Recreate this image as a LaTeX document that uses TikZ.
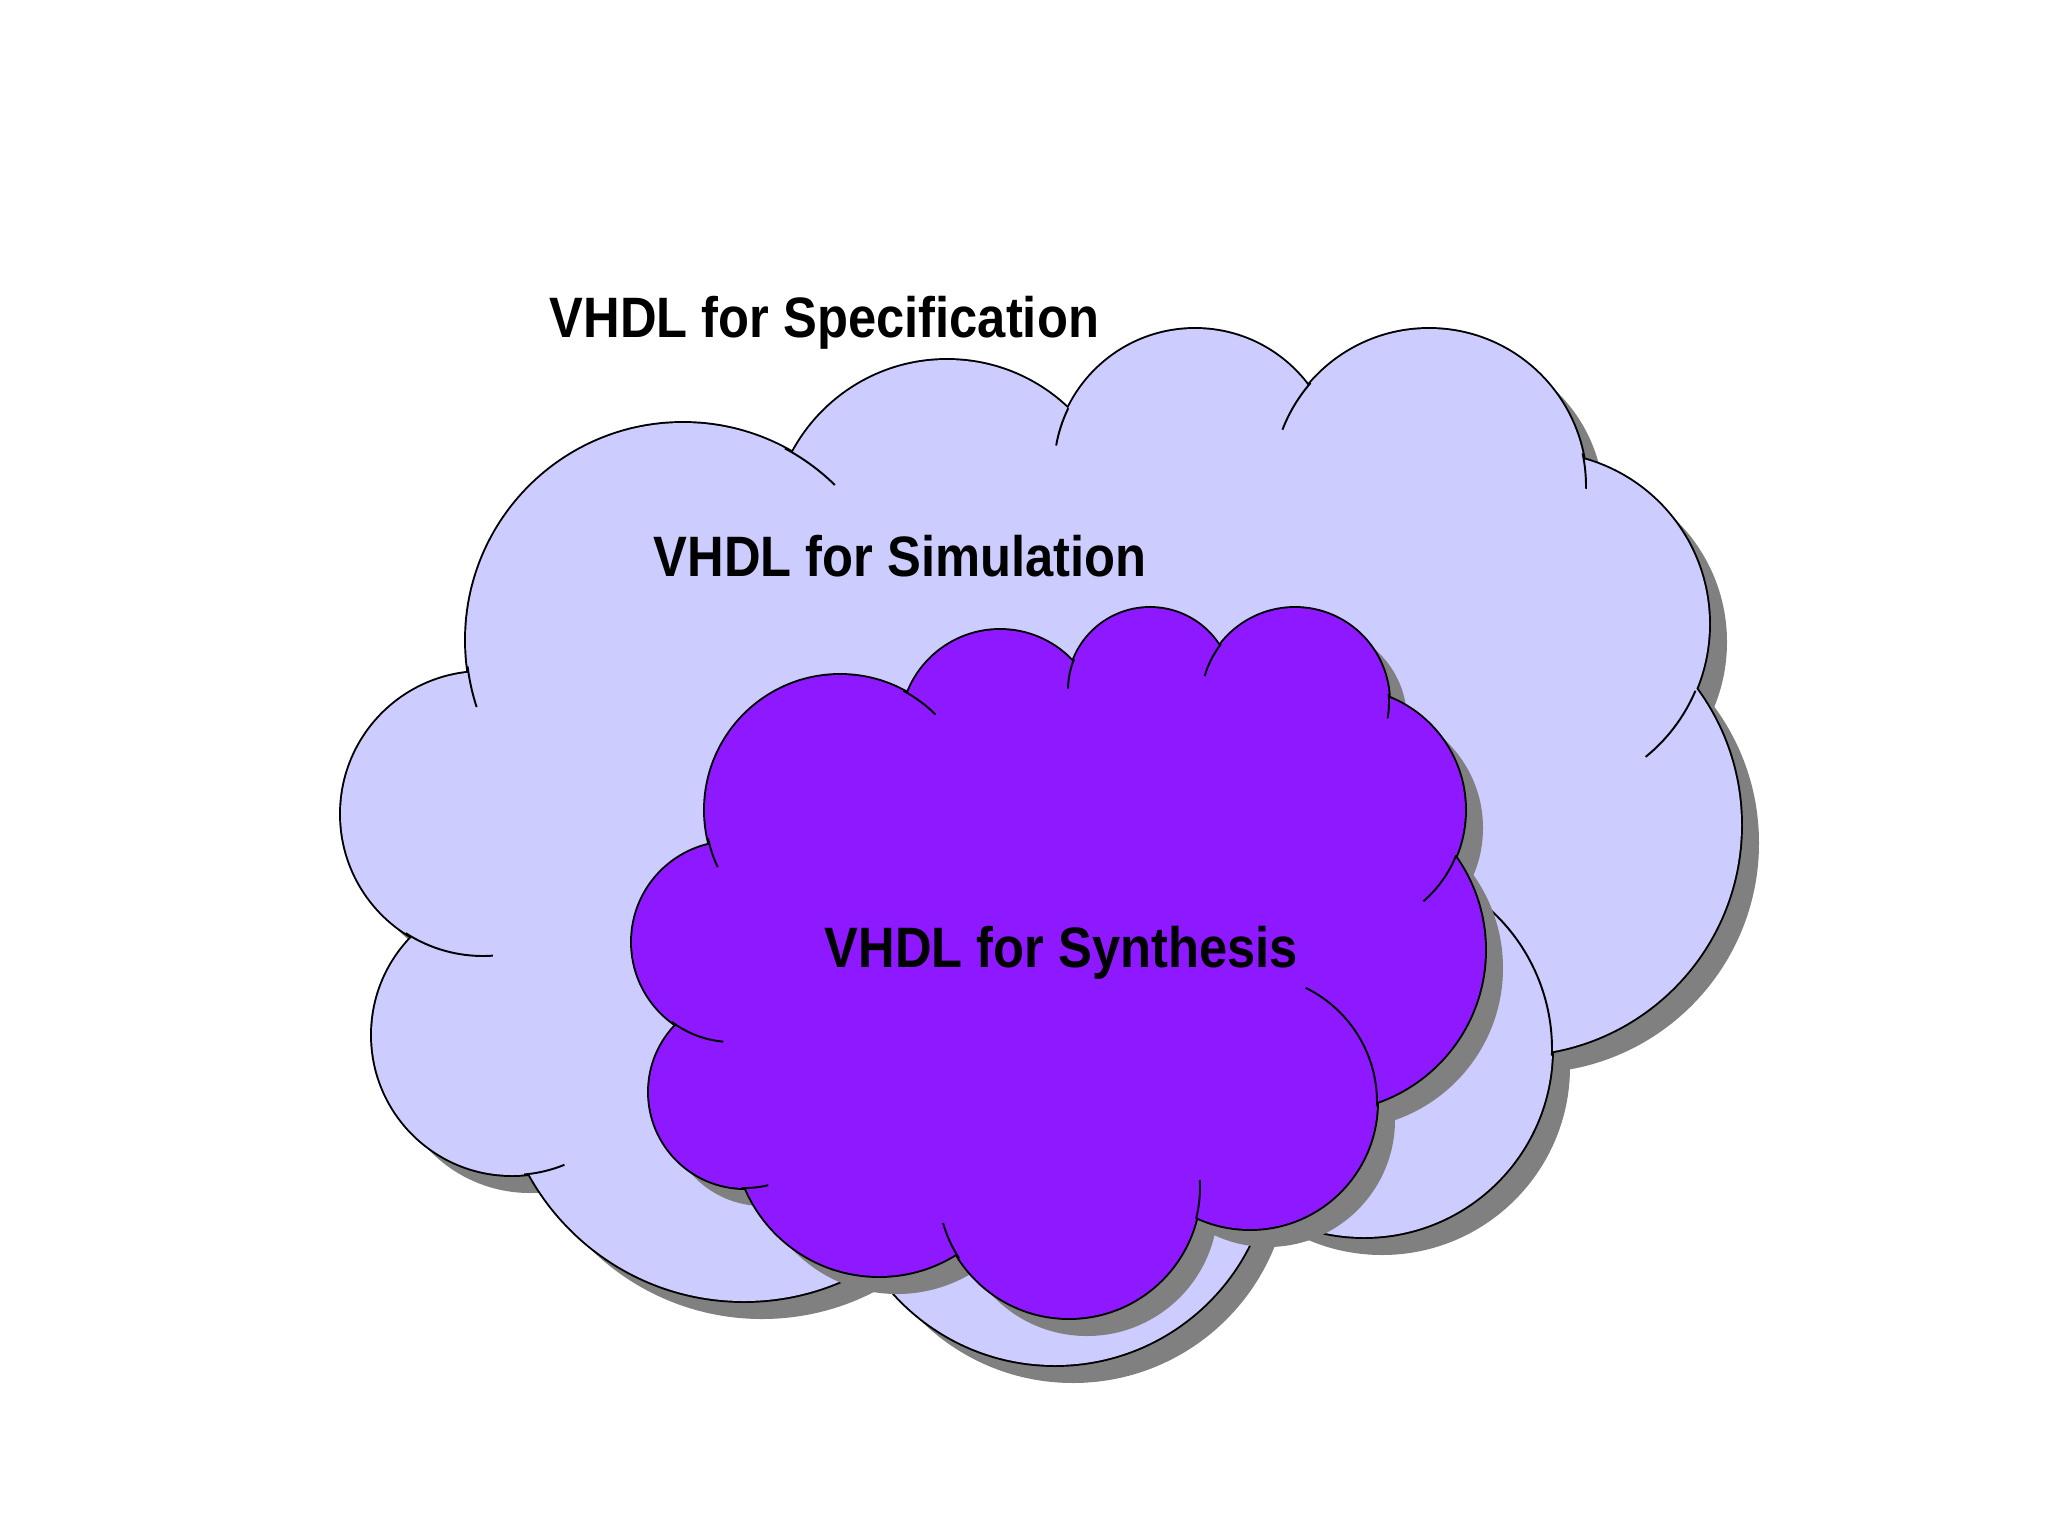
\documentclass[tikz,border=0pt]{standalone}
\usepackage{fontspec}
\newfontfamily\lblfont[FakeStretch=0.89]{Liberation Sans}
\definecolor{specfill}{HTML}{CCCCFF}
\definecolor{synfill}{HTML}{8E18FF}
\definecolor{dropgray}{HTML}{808080}

% lobes of the two clouds (x/y/radius, pixels from top left)
\def\speclobes{683/640/217, 947/535/175, 1195/470/141, 1429/486/157,
  1538/624/171, 1511/825/230, 1364/1049/188, 1055/1148/217,
  744/1056/245, 512/1035/140, 483/814/142}
\def\synlobes{840/810/135, 1000/729/99, 1150/690/82, 1295/702/94,
  1344/810/121, 1324/950/161, 1250/1102/127, 1069/1187/131,
  879/1131/145, 745/1092/96, 732/942/100}
% inner creases (x/y/radius/from/to)
\def\speccreases{683/640/217/173/162, 683/640/217/-62/-45.6,
  1195/470/141/190/206, 1429/486/157/201/221, 1429/486/157/-12/1,
  1538/624/171/23/51, 1364/1049/188/-58/2, 512/1035/140/85/68,
  483/814/142/123/86}
\def\syncreases{840/810/135/168/155, 840/810/135/-62/-45,
  1150/690/82/181/202, 1295/702/94/196/218, 1295/702/94/-5/10,
  1344/810/121/22/49, 1250/1102/127/-64/2, 1069/1187/131/147/164,
  1069/1187/131/-3/14, 745/1092/96/92/76, 732/942/100/127/95}

\begin{document}
\begin{tikzpicture}[
    x=0.01cm, y=-0.01cm,
    rim/.style={draw=black, line width=1.1pt},
    crease/.style={draw=black, line width=0.55pt},
    lbl/.style={font=\lblfont\bfseries\fontsize{16.2}{19}\selectfont,
                inner sep=0pt, anchor=base west},
  ]
  \useasboundingbox (0,0) rectangle (2048,1536);

  % specification / simulation cloud
  \begin{scope}[shift={(18,18)}]
    \foreach \cx/\cy/\rad in \speclobes
      \fill[dropgray] (\cx,\cy) circle[radius=\rad];
  \end{scope}
  \foreach \cx/\cy/\rad in \speclobes
    \path[rim] (\cx,\cy) circle[radius=\rad];
  \foreach \cx/\cy/\rad in \speclobes
    \fill[specfill] (\cx,\cy) circle[radius=\rad];
  \fill[specfill] (683,640) -- (947,535) -- (1195,470) -- (1429,486)
    -- (1538,624) -- (1511,825) -- (1364,1049) -- (1055,1148)
    -- (744,1056) -- (512,1035) -- (483,814) -- cycle;
  \foreach \cx/\cy/\rad/\a/\b in \speccreases
    \draw[crease] (\cx,\cy) ++(\a:\rad) arc[start angle=\a, end angle=\b, radius=\rad];

  % synthesis cloud
  \begin{scope}[shift={(18,18)}]
    \foreach \cx/\cy/\rad in \synlobes
      \fill[dropgray] (\cx,\cy) circle[radius=\rad];
  \end{scope}
  \foreach \cx/\cy/\rad in \synlobes
    \path[rim] (\cx,\cy) circle[radius=\rad];
  \foreach \cx/\cy/\rad in \synlobes
    \fill[synfill] (\cx,\cy) circle[radius=\rad];
  \fill[synfill] (840,810) -- (1000,729) -- (1150,690) -- (1295,702)
    -- (1344,810) -- (1324,950) -- (1250,1102) -- (1069,1187)
    -- (879,1131) -- (745,1092) -- (732,942) -- cycle;
  \foreach \cx/\cy/\rad/\a/\b in \syncreases
    \draw[crease] (\cx,\cy) ++(\a:\rad) arc[start angle=\a, end angle=\b, radius=\rad];

  \node[lbl] (spec) at (549,337) {VHDL for Specification};
  \node[lbl] (sim) at (653,576) {VHDL for Simulation};
  \node[lbl] (syn) at (824,967) {VHDL for Synthesis};
\end{tikzpicture}
\end{document}
